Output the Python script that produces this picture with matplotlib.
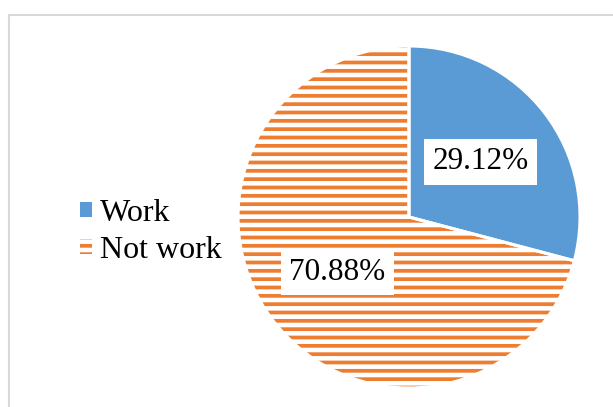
import matplotlib
matplotlib.use("Agg")
import matplotlib.pyplot as plt
from matplotlib.patches import Patch, Rectangle

categories = ["Work", "Not work"]
values = [29.12, 70.88]
colors = ["#5B9BD5", "#ED7D31"]

plt.rcParams['font.family'] = ['Liberation Serif', 'DejaVu Serif']
plt.rcParams['hatch.linewidth'] = 2.7

W, H = 613, 407
fig = plt.figure(figsize=(W/100, H/100), dpi=100)

# outer chart frame
fig.patches.append(Rectangle((9/W, -0.1), 1.2, 1 - 15/H + 0.1, transform=fig.transFigure,
                             fill=False, edgecolor="#D9D9D9", linewidth=1.5))

cx, cy, R = 409, H - 217, 171
pad = 1.02
ax = fig.add_axes([(cx - R*pad)/W, (cy - R*pad)/H, 2*R*pad/W, 2*R*pad/H])

wedges, texts, autotexts = ax.pie(values, startangle=90, counterclock=False,
                                  autopct=lambda p: f"{p:.2f}%", pctdistance=0.53,
                                  textprops=dict(fontsize=22.5, color="black"))
wedges[0].set_facecolor(colors[0]); wedges[0].set_edgecolor(colors[0]); wedges[0].set_linewidth(0)
wedges[1].set_facecolor("white"); wedges[1].set_edgecolor(colors[1]); wedges[1].set_linewidth(0)
wedges[1].set_hatch("--")

# white separators
ax.pie(values, startangle=90, counterclock=False,
       wedgeprops=dict(facecolor="none", edgecolor="white", linewidth=2.2))

for t in autotexts:
    t.set_bbox(dict(boxstyle="square,pad=0.27", facecolor="white", edgecolor="none"))
    t.set_zorder(10)

ax.set_xlim(-pad, pad)
ax.set_ylim(-pad, pad)
ax.set_aspect("equal")

handles = [Patch(facecolor=colors[0], edgecolor=colors[0], linewidth=0),
           Patch(facecolor="white", edgecolor=colors[1], hatch="--", linewidth=0)]
fig.legend(handles, categories, loc="center left", bbox_to_anchor=(80/W, (H - 232)/H),
           frameon=False, fontsize=23, borderpad=0, borderaxespad=0,
           handlelength=0.36, handleheight=0.36, handletextpad=0.26, labelspacing=0.26)

fig.savefig("out.png", dpi=100)
